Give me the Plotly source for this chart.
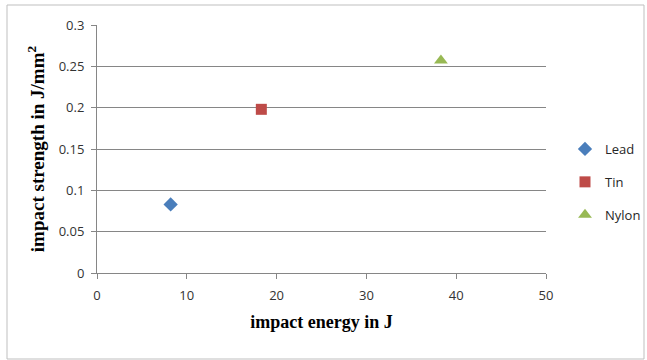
import plotly.graph_objects as go

series_names = ["Lead", "Tin", "Nylon"]
impact_energy = [8.2, 18.3, 38.3]
impact_strength = [0.083, 0.198, 0.257]
colors = ["#4a7ebb", "#be4b48", "#98b954"]
symbols = ["diamond", "square", "triangle-up"]

W, H = 647, 360
L, R, T, B = 97, 101, 25, 87
pw, ph = W - L - R, H - T - B

def px2x(p):
    return (p - L) / pw

def py2y(p):
    return (H - B - p) / ph

fig = go.Figure()
sizes = [11, 11, 12]
for i, name in enumerate(series_names):
    fig.add_trace(go.Scatter(
        x=[impact_energy[i]], y=[impact_strength[i]], mode="markers", name=name,
        legendgroup=name,
        marker=dict(symbol=symbols[i], color=colors[i], size=sizes[i],
                    line=dict(width=0)),
    ))

fig.update_layout(
    width=W, height=H, autosize=False,
    margin=dict(l=L, r=R, t=T, b=B),
    paper_bgcolor="white", plot_bgcolor="white",
    font=dict(family="Open Sans, Liberation Sans, sans-serif", size=12, color="#333333"),
    showlegend=True,
    legend=dict(xref="container", yref="container", x=565 / W, y=1 - 182 / H,
                xanchor="left", yanchor="middle",
                font=dict(size=13, color="#262626"), tracegroupgap=13,
                itemwidth=30, bgcolor="rgba(0,0,0,0)"),
    xaxis=dict(range=[0, 50], dtick=10, showgrid=False, zeroline=False,
               showline=True, linecolor="#868686", linewidth=1,
               ticks="outside", ticklen=5, tickcolor="#868686", ticklabelstandoff=5,
               title=dict(text="<b>impact energy in J</b>", standoff=12,
                          font=dict(family="Liberation Serif, serif", size=18, color="#000000"))),
    yaxis=dict(range=[0, 0.3], dtick=0.05, showgrid=True, gridcolor="#868686", gridwidth=1,
               zeroline=False, showline=True, linecolor="#868686", linewidth=1,
               ticks="outside", ticklen=5, tickcolor="#868686", ticklabelstandoff=4,
               title=dict(text="<b>impact strength in J/mm<sup>2</sup></b>", standoff=9,
                          font=dict(family="Liberation Serif, serif", size=19, color="#000000"))),
)
fig.update_xaxes(tickfont=dict(size=13))
fig.update_yaxes(tickfont=dict(size=13))

fig.add_shape(type="rect", xref="paper", yref="paper",
              x0=px2x(7), x1=px2x(644), y0=py2y(359), y1=py2y(5),
              line=dict(color="#bfbfbf", width=1), fillcolor="rgba(0,0,0,0)", layer="below")

post = "document.body.style.margin='0px';document.body.style.overflow='hidden';"

fig.write_html("out.html", post_script=post, config={"responsive": False, "displayModeBar": False})
